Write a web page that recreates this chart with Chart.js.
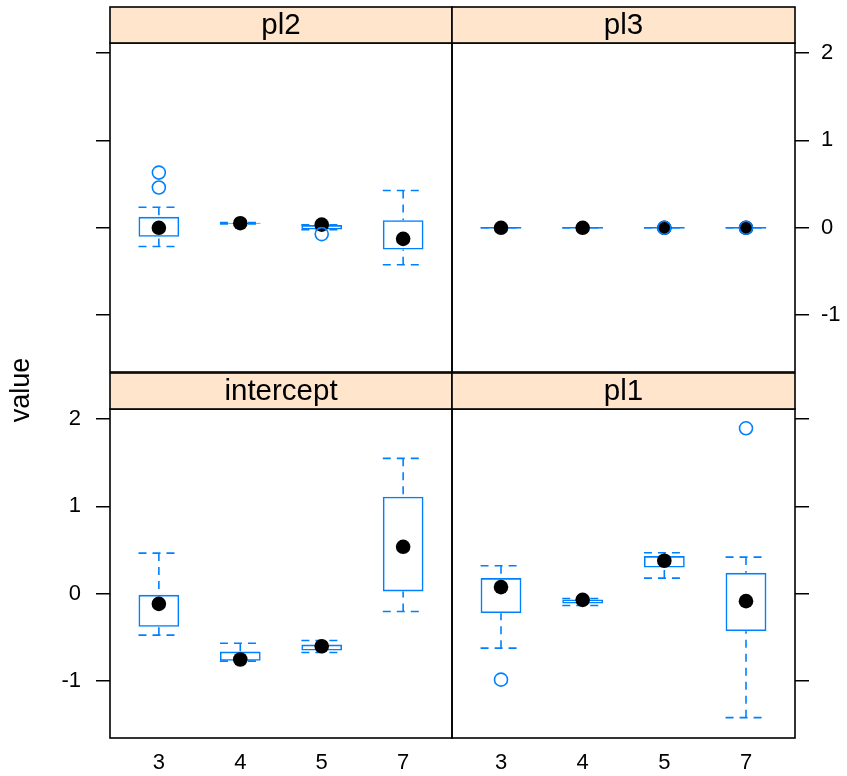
<!DOCTYPE html>
<html>
<head>
<meta charset="utf-8">
<script src="https://cdn.jsdelivr.net/npm/chart.js@4.4.0/dist/chart.umd.min.js"></script>
<style>
  body { margin: 0; background: #fff; }
  canvas { position: absolute; left: 0; top: 0; }
</style>
</head>
<body>
<canvas id="c0" width="847" height="776"></canvas>
<canvas id="c1" width="847" height="776"></canvas>
<canvas id="c2" width="847" height="776"></canvas>
<canvas id="c3" width="847" height="776"></canvas>
<script>
// panel names, in the order pl2, pl3 (top row), intercept, pl1 (bottom row)
const panels = ["pl2", "pl3", "intercept", "pl1"];
const categories = ["3", "4", "5", "7"];
const yTicks = [-1, 0, 1, 2];

// box summaries, one row per panel, one value per category
const whiskerLow = [
    [-0.213, 0.045, -0.022, -0.423],
    [0, 0, 0, 0],
    [-0.473, -0.770, -0.672, -0.202],
    [-0.622, -0.134, 0.180, -1.417]
];
const boxLow = [
    [-0.103, 0.047, -0.019, -0.248],
    [-0.01, -0.01, -0.01, -0.01],
    [-0.378, -0.767, -0.650, 0.027],
    [-0.221, -0.111, 0.301, -0.427]
];
const medians = [
    [0.000, 0.053, 0.036, -0.126],
    [0, 0, 0, 0],
    [-0.115, -0.752, -0.600, 0.538],
    [0.077, -0.069, 0.378, -0.084]
];
const boxHigh = [
    [0.126, 0.058, 0.031, 0.088],
    [0.01, 0.01, 0.01, 0.01],
    [-0.011, -0.661, -0.581, 1.111],
    [0.180, -0.065, 0.432, 0.240]
];
const whiskerHigh = [
    [0.236, 0.060, 0.034, 0.427],
    [0, 0, 0, 0],
    [0.466, -0.565, -0.535, 1.550],
    [0.321, -0.054, 0.470, 0.420]
];
const outliers = [
    [[0.632, 0.461], [], [-0.072], []],
    [[], [], [0], [0]],
    [[], [], [], []],
    [[-0.982], [], [], [1.894]]
];

const blue = "#0080ff";
const font = "'Liberation Sans', Arial, Helvetica, sans-serif";
Chart.defaults.color = "#000";
Chart.defaults.font.family = font;

// where each panel goes on the page (lattice 2x2 layout)
const layout = [
    {side: "left", labels: false, xlabels: false, pad: {left: 80, top: 43, right: 395, bottom: 404}},
    {side: "right", labels: true, xlabels: false, pad: {left: 452, top: 43, right: 0, bottom: 404}},
    {side: "left", labels: true, xlabels: true, pad: {left: 30, top: 409, right: 395, bottom: 0}},
    {side: "right", labels: false, xlabels: true, pad: {left: 452, top: 409, right: 0, bottom: 0}}
];

//plugin for the lattice bits: whiskers, panel border, strip, y title
const lattice = {
    id: "lattice",
    beforeDatasetsDraw(chart, args, opts) {
        const k = opts.panel;
        const xs = chart.scales.x, ys = chart.scales.y;
        const bars = chart.getDatasetMeta(2).data;
        const ctx = chart.ctx;
        ctx.save();
        ctx.strokeStyle = blue;
        ctx.lineWidth = 1.6;
        ctx.setLineDash([8, 6]);
        for (let i = 0; i < categories.length; i++) {
            const x = xs.getPixelForValue(i + 1);
            const half = bars[i].width / 2;
            const lo = ys.getPixelForValue(whiskerLow[k][i]);
            const hi = ys.getPixelForValue(whiskerHigh[k][i]);
            const q1 = ys.getPixelForValue(boxLow[k][i]);
            const q3 = ys.getPixelForValue(boxHigh[k][i]);
            ctx.beginPath();
            ctx.moveTo(x, lo); ctx.lineTo(x, q1);
            ctx.moveTo(x, hi); ctx.lineTo(x, q3);
            ctx.moveTo(x - half, lo); ctx.lineTo(x + half, lo);
            ctx.moveTo(x - half, hi); ctx.lineTo(x + half, hi);
            ctx.stroke();
        }
        ctx.restore();
    },
    afterDraw(chart, args, opts) {
        const a = chart.chartArea;
        const ctx = chart.ctx;
        ctx.save();
        ctx.lineWidth = 1.6;
        ctx.strokeStyle = "#000";
        ctx.strokeRect(a.left, a.top, a.right - a.left, a.bottom - a.top);
        // strip on top of the panel
        ctx.fillStyle = "#ffe5cc";
        ctx.fillRect(a.left, a.top - 36, a.right - a.left, 36);
        ctx.strokeRect(a.left, a.top - 36, a.right - a.left, 36);
        ctx.fillStyle = "#000";
        ctx.font = "29.5px " + font;
        ctx.textAlign = "center";
        ctx.textBaseline = "middle";
        ctx.fillText(panels[opts.panel], (a.left + a.right) / 2, a.top - 17);
        if (opts.panel === 0) {
            ctx.translate(22, 390);
            ctx.rotate(-Math.PI / 2);
            ctx.font = "27px " + font;
            ctx.fillText("value", 0, 0);
        }
        ctx.restore();
    }
};

function panelChart(k) {
    const lay = layout[k];
    const boxes = categories.map((c, i) => ({x: i + 1, y: [boxLow[k][i], boxHigh[k][i]]}));
    const dots = categories.map((c, i) => ({x: i + 1, y: medians[k][i]}));
    const outs = [];
    outliers[k].forEach((vals, i) => vals.forEach(v => outs.push({x: i + 1, y: v})));

    return new Chart(document.getElementById("c" + k).getContext("2d"), {
        data: {
            datasets: [
                {type: "scatter", data: outs, pointRadius: 6.5, pointBackgroundColor: "rgba(0,0,0,0)",
                 pointBorderColor: blue, pointBorderWidth: 1.6},
                {type: "scatter", data: dots, pointRadius: 7.3, pointBackgroundColor: "#000", pointBorderWidth: 0},
                {type: "bar", data: boxes, backgroundColor: "rgba(0,0,0,0)", borderColor: blue,
                 borderWidth: 1.6, borderSkipped: false, barPercentage: 0.5, categoryPercentage: 1}
            ]
        },
        options: {
            responsive: false,
            animation: false,
            events: [],
            layout: {padding: lay.pad},
            plugins: {legend: {display: false}, tooltip: {enabled: false}, lattice: {panel: k}},
            scales: {
                x: {
                    type: "linear", min: 0.4, max: 4.6, offset: false,
                    display: lay.xlabels,
                    grid: {display: false, offset: false}, border: {display: false},
                    afterBuildTicks: s => { s.ticks = categories.map((c, i) => ({value: i + 1})); },
                    afterFit: s => { s.height = lay.xlabels ? 38 : 0; },
                    ticks: {callback: v => categories[v - 1], font: {size: 22}, padding: 4, maxRotation: 0}
                },
                y: {
                    type: "linear", position: lay.side, min: -1.65, max: 2.115,
                    afterBuildTicks: s => { s.ticks = yTicks.map(v => ({value: v})); },
                    afterFit: s => { s.width = lay.side === "left" ? (lay.labels ? 80 : 30) : 52; },
                    border: {display: false},
                    grid: {drawOnChartArea: false, drawTicks: true, tickLength: 14, color: "#000", lineWidth: 1.5},
                    ticks: {display: lay.labels, font: {size: 22}, padding: lay.side === "left" ? 15 : 12}
                }
            }
        },
        plugins: [lattice]
    });
}

panels.forEach((p, k) => panelChart(k));
</script>
</body>
</html>
